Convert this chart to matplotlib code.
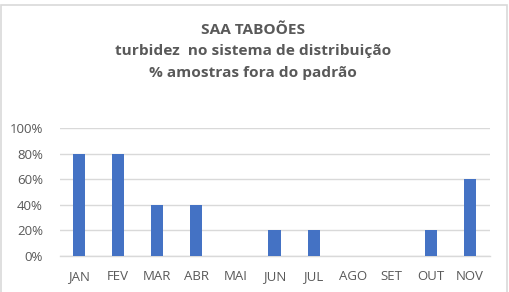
import matplotlib
matplotlib.use("Agg")
import matplotlib.pyplot as plt
from matplotlib.patches import Rectangle
from matplotlib.ticker import PercentFormatter

months = ["JAN", "FEV", "MAR", "ABR", "MAI", "JUN", "JUL", "AGO", "SET", "OUT", "NOV"]
values = [80, 80, 40, 40, 0, 20, 20, 0, 0, 20, 60]
title_lines = ["SAA TABOÕES", "turbidez  no sistema de distribuição", "% amostras fora do padrão"]

W, H = 509, 292
fig = plt.figure(figsize=(W / 100, H / 100), dpi=100)
fig.patch.set_facecolor("white")

# outer chart border
fig.patches.append(Rectangle((1 / W, -0.05), (506 / W), (H - 5) / H + 0.05,
                             transform=fig.transFigure, fill=False,
                             edgecolor="#d9d9d9", linewidth=1.2))

left, right = 59.5 / W, 489.5 / W
bottom, top = 1 - 256 / H, 1 - 128 / H
ax = fig.add_axes([left, bottom, right - left, top - bottom])

x = list(range(len(months)))
ax.bar(x, values, width=0.31, color="#4472c4", zorder=3)
ax.set_xlim(-0.5, len(months) - 0.5)
ax.set_ylim(0, 100)
ax.set_yticks([0, 20, 40, 60, 80, 100])
ax.yaxis.set_major_formatter(PercentFormatter(decimals=0))
ax.set_xticks(x)
ax.set_xticklabels(months)
ax.grid(axis="y", color="#d9d9d9", linewidth=1, zorder=0)
for s in ["top", "right", "left"]:
    ax.spines[s].set_visible(False)
ax.spines["bottom"].set_color("#d9d9d9")
ax.spines["bottom"].set_linewidth(1)
ax.tick_params(axis="both", length=0, colors="#595959", labelsize=9.5)
ax.tick_params(axis="x", pad=10)
ax.tick_params(axis="y", pad=12)
for lbl in ax.get_xticklabels() + ax.get_yticklabels():
    lbl.set_fontfamily("Open Sans")

ys = [30, 51, 73]
for t, y in zip(title_lines, ys):
    fig.text(253 / W, 1 - y / H, t, ha="center", va="center", fontsize=11.1,
             fontweight="bold", color="#595959", fontfamily="Open Sans")

fig.savefig("out.png", dpi=100)
